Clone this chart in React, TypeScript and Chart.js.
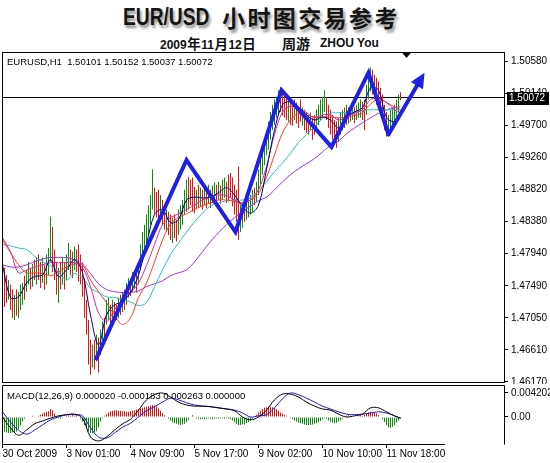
import React, { useEffect, useRef } from "react";
import { Chart, registerables } from "chart.js";

Chart.register(...registerables);

// ---------- DATA ----------
const priceHeader = "EURUSD,H1  1.50101 1.50152 1.50037 1.50072";
const macdHeader = "MACD(12,26,9) 0.000020 -0.000183 0.000263 0.000000";
const lastClose = 1.50072;

const priceTickLabels = ["1.50580", "1.50140", "1.49700", "1.49260", "1.48820", "1.48380", "1.47940", "1.47490", "1.47050", "1.46610", "1.46170"];
const macdTickLabels = ["0.004202", "0.00"];
const xTickBars = [0, 32, 64, 96, 128, 160, 192];
const xTickLabels = ["30 Oct 2009", "3 Nov 01:00", "4 Nov 09:00", "5 Nov 17:00", "9 Nov 02:00", "10 Nov 10:00", "11 Nov 18:00"];

// H1 bars: highs, lows, direction (g = up, r = down)
const barHighs = [
  1.4782, 1.4774, 1.4764, 1.4757, 1.4751, 1.4744, 1.4737, 1.4744, 1.4741, 1.4751,
  1.4753, 1.4763, 1.4771, 1.4782, 1.4774, 1.4779, 1.4785, 1.4788, 1.4792, 1.4782,
  1.4788, 1.4778, 1.4792, 1.4801, 1.4844, 1.4830, 1.4799, 1.4782, 1.4774, 1.4782,
  1.4788, 1.4782, 1.4792, 1.4808, 1.4799, 1.4796, 1.4803, 1.4799, 1.4806, 1.4792,
  1.4781, 1.4760, 1.4730, 1.4702, 1.4675, 1.4668, 1.4675, 1.4682, 1.4678, 1.4689,
  1.4700, 1.4705, 1.4730, 1.4733, 1.4723, 1.4730, 1.4727, 1.4723, 1.4733, 1.4737,
  1.4741, 1.4744, 1.4753, 1.4760, 1.4757, 1.4768, 1.4771, 1.4774, 1.4782, 1.4806,
  1.4823, 1.4833, 1.4847, 1.4860, 1.4874, 1.4909, 1.4884, 1.4878, 1.4881, 1.4874,
  1.4867, 1.4860, 1.4854, 1.4851, 1.4847, 1.4843, 1.4847, 1.4840, 1.4854, 1.4860,
  1.4867, 1.4881, 1.4895, 1.4899, 1.4895, 1.4898, 1.4885, 1.4881, 1.4888, 1.4884,
  1.4881, 1.4887, 1.4884, 1.4888, 1.4881, 1.4887, 1.4891, 1.4888, 1.4892, 1.4887,
  1.4895, 1.4898, 1.4892, 1.4902, 1.4904, 1.4898, 1.4888, 1.4881, 1.4913, 1.4860,
  1.4863, 1.4867, 1.4865, 1.4870, 1.4874, 1.4881, 1.4884, 1.4892, 1.4909, 1.4922,
  1.4939, 1.4950, 1.4963, 1.4975, 1.4988, 1.4998, 1.5005, 1.5009, 1.5018, 1.5016,
  1.5013, 1.5010, 1.5007, 1.5005, 1.5002, 1.4999, 1.5005, 1.5001, 1.4996, 1.5005,
  1.4994, 1.4991, 1.4988, 1.4984, 1.4987, 1.4980, 1.4984, 1.4991, 1.4998, 1.5005,
  1.5009, 1.5018, 1.5007, 1.4998, 1.4991, 1.4984, 1.4977, 1.4975, 1.4980, 1.4988,
  1.4991, 1.4994, 1.4998, 1.4994, 1.4996, 1.4999, 1.4995, 1.4998, 1.5001, 1.5005,
  1.5002, 1.5005, 1.5025, 1.5043, 1.5049, 1.5046, 1.5039, 1.5035, 1.5030, 1.5021,
  1.5012, 1.4998, 1.4988, 1.4984, 1.4991, 1.4994, 1.4998, 1.5005, 1.5012, 1.5015,
];
const barLows = [
  1.4730, 1.4720, 1.4726, 1.4730, 1.4716, 1.4705, 1.4702, 1.4708, 1.4705, 1.4716,
  1.4723, 1.4730, 1.4741, 1.4751, 1.4744, 1.4748, 1.4757, 1.4751, 1.4757, 1.4746,
  1.4753, 1.4744, 1.4751, 1.4764, 1.4782, 1.4768, 1.4757, 1.4737, 1.4726, 1.4744,
  1.4751, 1.4744, 1.4757, 1.4771, 1.4764, 1.4760, 1.4771, 1.4768, 1.4755, 1.4751,
  1.4734, 1.4705, 1.4682, 1.4641, 1.4627, 1.4637, 1.4634, 1.4645, 1.4630, 1.4654,
  1.4668, 1.4675, 1.4696, 1.4702, 1.4696, 1.4705, 1.4700, 1.4702, 1.4705, 1.4709,
  1.4713, 1.4716, 1.4723, 1.4733, 1.4735, 1.4741, 1.4746, 1.4740, 1.4751, 1.4771,
  1.4782, 1.4792, 1.4806, 1.4819, 1.4833, 1.4854, 1.4847, 1.4843, 1.4837, 1.4840,
  1.4833, 1.4826, 1.4823, 1.4819, 1.4812, 1.4808, 1.4815, 1.4810, 1.4819, 1.4826,
  1.4833, 1.4847, 1.4851, 1.4854, 1.4860, 1.4851, 1.4849, 1.4854, 1.4856, 1.4858,
  1.4854, 1.4860, 1.4856, 1.4863, 1.4856, 1.4863, 1.4865, 1.4860, 1.4867, 1.4862,
  1.4867, 1.4870, 1.4863, 1.4867, 1.4870, 1.4858, 1.4847, 1.4837, 1.4812, 1.4823,
  1.4829, 1.4837, 1.4840, 1.4843, 1.4847, 1.4851, 1.4860, 1.4865, 1.4874, 1.4888,
  1.4902, 1.4915, 1.4929, 1.4936, 1.4950, 1.4963, 1.4970, 1.4980, 1.4984, 1.4988,
  1.4983, 1.4980, 1.4977, 1.4975, 1.4970, 1.4969, 1.4977, 1.4972, 1.4966, 1.4975,
  1.4969, 1.4963, 1.4959, 1.4957, 1.4963, 1.4950, 1.4957, 1.4966, 1.4970, 1.4977,
  1.4980, 1.4988, 1.4977, 1.4966, 1.4957, 1.4950, 1.4943, 1.4939, 1.4947, 1.4957,
  1.4963, 1.4966, 1.4970, 1.4972, 1.4975, 1.4977, 1.4973, 1.4977, 1.4980, 1.4980,
  1.4977, 1.4963, 1.4984, 1.5005, 1.5016, 1.5012, 1.5005, 1.4998, 1.4994, 1.4988,
  1.4977, 1.4963, 1.4954, 1.4957, 1.4963, 1.4969, 1.4975, 1.4980, 1.4988, 1.5004,
];
const barDirs = (
  "rrrgrrgrgg" + "grggrgrgrr" + "grgggrrrgr" + "grggrggrrr" + "rrrrrgrgrg" +
  "grggrgrrgr" + "grggrggrgg" + "ggggggrrrg" + "rrgrrgrrgg" + "gggrrrrgrg" +
  "rgrgrggrgr" + "ggrrrrrrrg" + "grggggrggg" + "gggggggggr" + "rrrgrrgrrr" +
  "grrrgrrggg" + "ggrrrrrrgg" + "grgrggrggg" + "rrgggrrrrr" + "rrrggggggr"
).split("");

// indicator lines sampled at these bars
const sampleBars = [0, 4, 8, 12, 16, 20, 24, 28, 32, 36, 40, 44, 48, 52, 56, 60, 64, 68, 72, 76, 80, 84, 88, 92, 96, 100, 104, 108, 112, 116, 120, 124, 128, 132, 136, 140, 144, 148, 152, 156, 160, 164, 168, 172, 176, 180, 184, 188, 192, 196, 199];

const maNavy = [1.4778, 1.4733, 1.4734, 1.4753, 1.4762, 1.4764, 1.4785, 1.4762, 1.4771, 1.4785, 1.4767, 1.4709, 1.4668, 1.4709, 1.4723, 1.4727, 1.4740, 1.4764, 1.4806, 1.4847, 1.4854, 1.4836, 1.4840, 1.4867, 1.4871, 1.4870, 1.4871, 1.4877, 1.4884, 1.4874, 1.4858, 1.4849, 1.4860, 1.4909, 1.4963, 1.4998, 1.5002, 1.4995, 1.4984, 1.4977, 1.4981, 1.4977, 1.4966, 1.4981, 1.4988, 1.4994, 1.5021, 1.5018, 1.4980, 1.4975, 1.4984];
const maMagenta = [1.4815, 1.4796, 1.4767, 1.4771, 1.4775, 1.4778, 1.4781, 1.4781, 1.4781, 1.4781, 1.4774, 1.4748, 1.4712, 1.4700, 1.4716, 1.4730, 1.4740, 1.4753, 1.4777, 1.4806, 1.4833, 1.4843, 1.4848, 1.4854, 1.4860, 1.4867, 1.4871, 1.4874, 1.4873, 1.4867, 1.4863, 1.4867, 1.4881, 1.4913, 1.4957, 1.4988, 1.4996, 1.4994, 1.4987, 1.4980, 1.4984, 1.4984, 1.4977, 1.4981, 1.4986, 1.4991, 1.5005, 1.5007, 1.5001, 1.4991, 1.4986];
const maRed = [1.4812, 1.4795, 1.4778, 1.4767, 1.4767, 1.4766, 1.4763, 1.4768, 1.4775, 1.4779, 1.4778, 1.4757, 1.4741, 1.4726, 1.4709, 1.4696, 1.4705, 1.4733, 1.4753, 1.4782, 1.4812, 1.4834, 1.4843, 1.4848, 1.4854, 1.4859, 1.4863, 1.4867, 1.4867, 1.4865, 1.4863, 1.4867, 1.4876, 1.4898, 1.4929, 1.4959, 1.4977, 1.4986, 1.4984, 1.4981, 1.4981, 1.4981, 1.4980, 1.4981, 1.4983, 1.4987, 1.4999, 1.5005, 1.5001, 1.4995, 1.4991];
const maCyan = [1.4806, 1.4804, 1.4801, 1.4799, 1.4790, 1.4782, 1.4777, 1.4768, 1.4757, 1.4766, 1.4760, 1.4746, 1.4740, 1.4734, 1.4733, 1.4730, 1.4727, 1.4722, 1.4726, 1.4748, 1.4771, 1.4792, 1.4808, 1.4823, 1.4837, 1.4849, 1.4859, 1.4863, 1.4866, 1.4867, 1.4867, 1.4870, 1.4881, 1.4892, 1.4906, 1.4918, 1.4931, 1.4946, 1.4957, 1.4968, 1.4979, 1.4986, 1.4987, 1.4987, 1.4988, 1.4990, 1.4991, 1.4991, 1.4991, 1.4991, 1.4991];
const maPurple = [1.4778, 1.4775, 1.4775, 1.4778, 1.4782, 1.4786, 1.4788, 1.4788, 1.4788, 1.4785, 1.4779, 1.4766, 1.4752, 1.4744, 1.4741, 1.4740, 1.4740, 1.4742, 1.4748, 1.4752, 1.4756, 1.4763, 1.4767, 1.4771, 1.4782, 1.4796, 1.4810, 1.4822, 1.4833, 1.4843, 1.4851, 1.4859, 1.4866, 1.4871, 1.4881, 1.4892, 1.4902, 1.4910, 1.4917, 1.4924, 1.4933, 1.4942, 1.4948, 1.4958, 1.4966, 1.4973, 1.4980, 1.4986, 1.4991, 1.4994, 1.4995];

// hand-drawn trend zigzag (bar position, price); last point is the arrow tip
const zigzagBars = [46.5, 92, 116.5, 139.5, 164.5, 183, 193, 211];
const zigzagPrices = [1.4647, 1.4922, 1.4823, 1.5018, 1.4940, 1.5042, 1.4957, 1.5042];
const shiftMarkerBar = 202;

// MACD
const macdHist = [
  -0.0024, -0.0026, -0.0027, -0.0028, -0.0028, -0.0027, -0.0028, -0.0026, -0.0021, -0.0015,
  -0.0008, -0.0003, 0.0001, -0.0001, 0.0001, 0.0002, 0.0001, -0.0001, 0.0002, 0.0004,
  0.0006, 0.0008, 0.0009, 0.0010, 0.0014, 0.0012, 0.0006, 0.0001, -0.0002, -0.0003,
  -0.0002, 0.0001, 0.0002, 0.0003, 0.0002, 0.0003, 0.0002, 0.0003, 0.0001, -0.0003,
  -0.0008, -0.0014, -0.0020, -0.0025, -0.0028, -0.0028, -0.0027, -0.0025, -0.0018, -0.0008,
  -0.0002, 0.0002, 0.0005, 0.0008, 0.0010, 0.0011, 0.0012, 0.0012, 0.0011, 0.0011,
  0.0010, 0.0010, 0.0009, 0.0009, 0.0010, 0.0011, 0.0012, 0.0013, 0.0014, 0.0015,
  0.0016, 0.0017, 0.0018, 0.0019, 0.0020, 0.0021, 0.0020, 0.0018, 0.0015, 0.0011,
  0.0007, 0.0003, 0.0000, -0.0003, -0.0006, -0.0009, -0.0011, -0.0012, -0.0013, -0.0014,
  -0.0013, -0.0012, -0.0009, -0.0005, 0.0001, 0.0003, 0.0001, -0.0002, -0.0003, -0.0004,
  -0.0003, -0.0004, -0.0003, -0.0002, -0.0003, -0.0004, -0.0003, -0.0002, -0.0003, -0.0002,
  -0.0002, -0.0003, -0.0002, -0.0003, -0.0004, -0.0006, -0.0009, -0.0012, -0.0014, -0.0014,
  -0.0013, -0.0013, -0.0011, -0.0009, -0.0006, -0.0003, 0.0000, 0.0004, 0.0008, 0.0011,
  0.0014, 0.0016, 0.0017, 0.0018, 0.0018, 0.0017, 0.0016, 0.0014, 0.0011, 0.0008,
  0.0006, 0.0004, 0.0002, 0.0001, -0.0002, -0.0004, -0.0006, -0.0008, -0.0010, -0.0011,
  -0.0012, -0.0013, -0.0014, -0.0014, -0.0014, -0.0013, -0.0012, -0.0011, -0.0009, -0.0007,
  -0.0004, -0.0002, -0.0003, -0.0006, -0.0008, -0.0010, -0.0011, -0.0010, -0.0008, -0.0006,
  -0.0003, -0.0001, 0.0002, 0.0003, 0.0002, 0.0001, -0.0001, 0.0001, 0.0002, 0.0003,
  0.0002, 0.0004, 0.0006, 0.0008, 0.0009, 0.0009, 0.0008, 0.0006, 0.0003, 0.0001,
  -0.0004, -0.0009, -0.0014, -0.0018, -0.0019, -0.0017, -0.0014, -0.0010, -0.0006, -0.0002,
];
const macdMain = [0.0000, -0.0019, -0.0032, -0.0023, -0.0012, -0.0007, -0.0002, 0.0002, 0.0004, 0.0005, -0.0002, -0.0035, -0.0042, -0.0035, -0.0023, -0.0012, -0.0004, 0.0012, 0.0030, 0.0039, 0.0042, 0.0035, 0.0026, 0.0021, 0.0019, 0.0019, 0.0018, 0.0016, 0.0014, 0.0011, 0.0000, -0.0005, 0.0000, 0.0012, 0.0030, 0.0040, 0.0040, 0.0035, 0.0026, 0.0019, 0.0014, 0.0012, 0.0005, 0.0000, 0.0002, 0.0005, 0.0016, 0.0016, 0.0009, 0.0002, -0.0002];
const macdSignal = [0.0009, -0.0009, -0.0023, -0.0030, -0.0023, -0.0014, -0.0005, 0.0000, 0.0004, 0.0004, 0.0002, -0.0019, -0.0035, -0.0037, -0.0028, -0.0018, -0.0011, 0.0000, 0.0011, 0.0018, 0.0026, 0.0033, 0.0030, 0.0025, 0.0021, 0.0019, 0.0018, 0.0016, 0.0014, 0.0012, 0.0007, 0.0000, 0.0002, 0.0004, 0.0016, 0.0032, 0.0042, 0.0039, 0.0033, 0.0026, 0.0019, 0.0014, 0.0009, 0.0005, 0.0004, 0.0005, 0.0007, 0.0009, 0.0007, 0.0002, -0.0002];

// ---------- STYLE ----------
const FONT = "'Liberation Sans', Arial, sans-serif";
const UP = "#118a11";
const DOWN = "#e01515";
const ZIG = "#1f1fe6";
const X_MIN = -0.25;
const X_MAX = 251.25;
const P_MIN = 1.46156;
const P_MAX = 1.50704;
const M_MIN = -0.00473;
const M_MAX = 0.0056;

const crisp = (v: number) => Math.floor(v) + 0.5;

const pricePlugin = {
  id: "priceDecor",
  beforeDatasetsDraw(chart: any) {
    const { ctx, chartArea: a, scales } = chart;
    const py = crisp(scales.y.getPixelForValue(lastClose));
    ctx.save();
    ctx.strokeStyle = "#000";
    ctx.lineWidth = 1;
    ctx.beginPath();
    ctx.moveTo(a.left, py);
    ctx.lineTo(a.right, py);
    ctx.stroke();
    ctx.fillStyle = "#000";
    ctx.font = `9.5px ${FONT}`;
    ctx.textBaseline = "middle";
    ctx.textAlign = "left";
    ctx.fillText(priceHeader, a.left + 5, a.top + 10);
    ctx.restore();
  },
  afterDatasetsDraw(chart: any) {
    const { ctx, scales } = chart;
    const n = zigzagBars.length;
    const tx = scales.x.getPixelForValue(zigzagBars[n - 1]);
    const ty = scales.y.getPixelForValue(zigzagPrices[n - 1]);
    const fx = scales.x.getPixelForValue(zigzagBars[n - 2]);
    const fy = scales.y.getPixelForValue(zigzagPrices[n - 2]);
    const len = Math.hypot(tx - fx, ty - fy);
    const ux = (tx - fx) / len;
    const uy = (ty - fy) / len;
    const headLen = 15;
    const headW = 7;
    const bx = tx - ux * headLen;
    const by = ty - uy * headLen;
    ctx.save();
    ctx.strokeStyle = ZIG;
    ctx.fillStyle = ZIG;
    ctx.lineWidth = 4;
    ctx.lineCap = "round";
    ctx.beginPath();
    ctx.moveTo(fx, fy);
    ctx.lineTo(bx + ux * 2, by + uy * 2);
    ctx.stroke();
    ctx.beginPath();
    ctx.moveTo(tx, ty);
    ctx.lineTo(bx - uy * headW, by + ux * headW);
    ctx.lineTo(bx + uy * headW, by - ux * headW);
    ctx.closePath();
    ctx.fill();
    ctx.restore();
  },
  afterDraw(chart: any) {
    const { ctx, chartArea: a, scales } = chart;
    ctx.save();
    ctx.strokeStyle = "#000";
    ctx.lineWidth = 1;
    ctx.strokeRect(crisp(a.left), crisp(a.top), Math.round(a.right - a.left) - 1, Math.round(a.bottom - a.top) - 1);
    // shift marker
    const mx = scales.x.getPixelForValue(shiftMarkerBar);
    ctx.fillStyle = "#000";
    ctx.beginPath();
    ctx.moveTo(mx - 5, a.top);
    ctx.lineTo(mx + 5, a.top);
    ctx.lineTo(mx, a.top + 6);
    ctx.closePath();
    ctx.fill();
    // last price label
    const py = scales.y.getPixelForValue(lastClose);
    ctx.fillRect(a.right + 2, Math.round(py) - 6, 42, 13);
    ctx.fillStyle = "#fff";
    ctx.font = `10px ${FONT}`;
    ctx.textBaseline = "middle";
    ctx.textAlign = "left";
    ctx.fillText(lastClose.toFixed(5), a.right + 4, Math.round(py) + 0.5);
    ctx.restore();
  },
};

const macdPlugin = {
  id: "macdDecor",
  beforeDatasetsDraw(chart: any) {
    const { ctx, chartArea: a } = chart;
    ctx.save();
    ctx.fillStyle = "#000";
    ctx.font = `9.5px ${FONT}`;
    ctx.textBaseline = "middle";
    ctx.textAlign = "left";
    ctx.fillText(macdHeader, a.left + 5, a.top + 11);
    ctx.restore();
  },
  afterDraw(chart: any) {
    const { ctx, chartArea: a } = chart;
    ctx.save();
    ctx.strokeStyle = "#000";
    ctx.lineWidth = 1;
    ctx.beginPath();
    const t = crisp(a.top);
    const b = crisp(a.bottom);
    const l = crisp(a.left);
    const r = crisp(a.right - 1);
    ctx.moveTo(l, b);
    ctx.lineTo(l, t);
    ctx.lineTo(r, t);
    ctx.lineTo(r, b);
    ctx.moveTo(l, b);
    ctx.lineTo(445, b);
    ctx.stroke();
    ctx.restore();
  },
};

const lineDs = (vals: number[], color: string, order: number) => ({
  type: "line" as const,
  data: sampleBars.map((b, k) => ({ x: b, y: vals[k] })),
  borderColor: color,
  borderWidth: 1,
  pointRadius: 0,
  tension: 0.35,
  order,
});

export default function App() {
  const priceRef = useRef<HTMLCanvasElement>(null);
  const macdRef = useRef<HTMLCanvasElement>(null);

  useEffect(() => {
    const tickFont = { size: 10, family: FONT };
    const priceChart = new Chart(priceRef.current as HTMLCanvasElement, {
      type: "bar",
      data: {
        datasets: [
          {
            type: "line",
            data: zigzagBars.slice(0, -1).map((b, k) => ({ x: b, y: zigzagPrices[k] })),
            borderColor: ZIG,
            borderWidth: 4,
            pointRadius: 0,
            tension: 0,
            borderJoinStyle: "miter",
            order: 0,
          } as any,
          lineDs(maNavy, "#00007a", 1),
          lineDs(maMagenta, "#e0259c", 2),
          lineDs(maRed, "#ff3a2a", 3),
          lineDs(maCyan, "#22c4c0", 4),
          lineDs(maPurple, "#9a33e0", 5),
          {
            type: "bar",
            data: barHighs.map((h, i) => ({ x: i, y: [barLows[i], h] })),
            backgroundColor: barDirs.map((d) => (d === "g" ? UP : DOWN)),
            borderWidth: 0,
            barThickness: 1,
            inflateAmount: 0,
            order: 10,
          } as any,
        ],
      },
      options: {
        responsive: false,
        animation: false,
        events: [],
        layout: { padding: { top: 2, bottom: 1, left: 2, right: 0 } },
        plugins: { legend: { display: false }, tooltip: { enabled: false } },
        scales: {
          x: { type: "linear", min: X_MIN, max: X_MAX, offset: false, bounds: "data", display: false, grid: { offset: false } },
          y: {
            type: "linear",
            position: "right",
            min: P_MIN,
            max: P_MAX,
            bounds: "data",
            beginAtZero: false,
            afterBuildTicks: (s: any) => {
              s.ticks = priceTickLabels.map((l) => ({ value: Number(l) }));
            },
            afterFit: (s: any) => {
              s.width = 45;
              s.paddingTop = 0;
              s.paddingBottom = 0;
            },
            ticks: { callback: (_v: any, i: number) => priceTickLabels[i], color: "#000", font: tickFont, padding: 3, autoSkip: false },
            grid: { drawOnChartArea: false, drawTicks: true, tickLength: 3, color: "#000" },
            border: { display: false },
          },
        },
      } as any,
      plugins: [pricePlugin],
    });

    const macdChart = new Chart(macdRef.current as HTMLCanvasElement, {
      type: "bar",
      data: {
        datasets: [
          lineDs(macdMain, "#000000", 0),
          lineDs(macdSignal, "#1a1acc", 1),
          {
            type: "bar",
            data: macdHist.map((v, i) => ({ x: i, y: v })),
            backgroundColor: macdHist.map((v) => (v >= 0 ? "#d01818" : "#128a12")),
            borderWidth: 0,
            barThickness: 1,
            inflateAmount: 0,
            order: 10,
          } as any,
        ],
      },
      options: {
        responsive: false,
        animation: false,
        events: [],
        layout: { padding: { top: 1, bottom: 0, left: 2, right: 0 } },
        plugins: { legend: { display: false }, tooltip: { enabled: false } },
        scales: {
          x: {
            type: "linear",
            min: X_MIN,
            max: X_MAX,
            offset: false,
            bounds: "data",
            position: "bottom",
            afterBuildTicks: (s: any) => {
              s.ticks = xTickBars.map((v) => ({ value: v }));
            },
            afterFit: (s: any) => {
              s.height = 19;
              s.paddingLeft = 0;
              s.paddingRight = 0;
            },
            ticks: {
              callback: (_v: any, i: number) => xTickLabels[i],
              align: "start",
              autoSkip: false,
              maxRotation: 0,
              minRotation: 0,
              padding: 0,
              color: "#000",
              font: tickFont,
            },
            grid: { drawOnChartArea: false, drawTicks: true, tickLength: 4, color: "#000", offset: false },
            border: { display: false },
          },
          y: {
            type: "linear",
            position: "right",
            min: M_MIN,
            max: M_MAX,
            bounds: "data",
            afterBuildTicks: (s: any) => {
              s.ticks = macdTickLabels.map((l) => ({ value: Number(l) }));
            },
            afterFit: (s: any) => {
              s.width = 45;
              s.paddingTop = 0;
              s.paddingBottom = 0;
            },
            ticks: { callback: (_v: any, i: number) => macdTickLabels[i], color: "#000", font: tickFont, padding: 3, autoSkip: false },
            grid: { drawOnChartArea: false, drawTicks: true, tickLength: 3, color: "#000" },
            border: { display: false },
          },
        },
      } as any,
      plugins: [macdPlugin],
    });

    return () => {
      priceChart.destroy();
      macdChart.destroy();
    };
  }, []);

  const cjk = "'Noto Sans CJK SC', sans-serif";
  const titleBase: React.CSSProperties = {
    position: "absolute",
    top: 1,
    height: 32,
    lineHeight: "32px",
    whiteSpace: "nowrap",
    fontWeight: "bold",
    color: "#151515",
    textShadow: "2px 3px 3px rgba(0,0,0,0.45)",
  };
  const subBase: React.CSSProperties = {
    position: "absolute",
    top: 35,
    height: 16,
    lineHeight: "16px",
    fontWeight: "bold",
    color: "#111",
    whiteSpace: "nowrap",
    fontFamily: `${FONT}`,
    fontSize: 12,
  };
  const subCjk: React.CSSProperties = { fontFamily: cjk, fontSize: 13.5, margin: "0 0.5px" };

  return (
    <div style={{ position: "fixed", left: 0, top: 0, width: 550, height: 463, background: "#fff", overflow: "hidden" }}>
      <div
        style={{
          ...titleBase,
          left: 123,
          fontFamily: FONT,
          fontSize: 24,
          transform: "scaleX(0.8)",
          transformOrigin: "0 0",
        }}
      >
        EUR/USD
      </div>
      <div style={{ ...titleBase, left: 222, fontFamily: cjk, fontSize: 23, letterSpacing: 2.4 }}>小时图交易参考</div>
      <div style={{ ...subBase, left: 160 }}>
        2009<span style={subCjk}>年</span>11<span style={subCjk}>月</span>12<span style={subCjk}>日</span>
      </div>
      <div style={{ ...subBase, left: 282 }}>
        <span style={{ fontFamily: cjk, fontSize: 14 }}>周游</span>
      </div>
      <div style={{ ...subBase, left: 320 }}>ZHOU You</div>
      <canvas ref={priceRef} width={550} height={334} style={{ position: "absolute", left: 0, top: 50 }} />
      <canvas ref={macdRef} width={550} height={79} style={{ position: "absolute", left: 0, top: 384 }} />
    </div>
  );
}
